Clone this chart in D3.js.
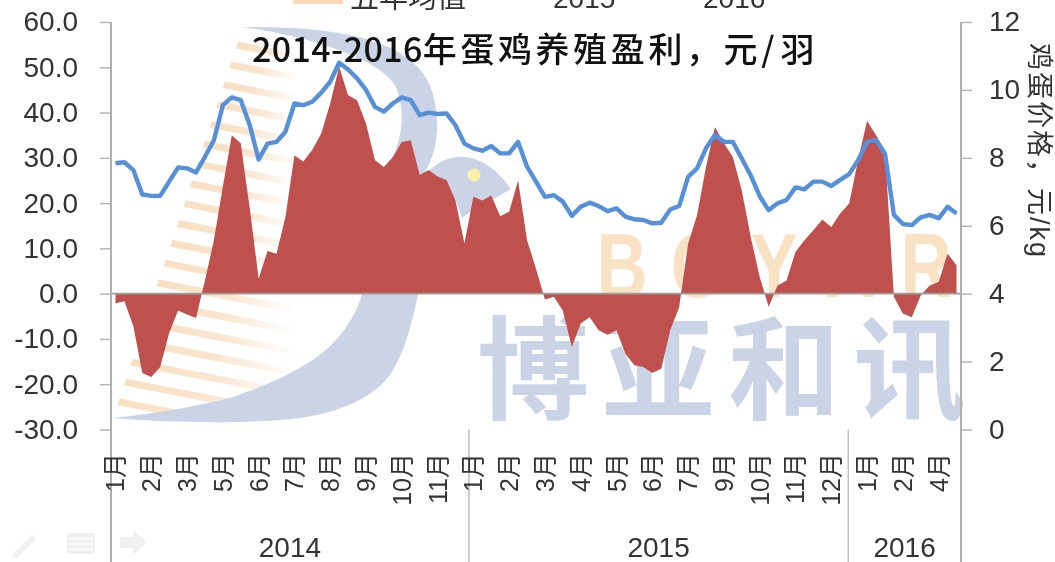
<!DOCTYPE html>
<html>
<head>
<meta charset="utf-8">
<script src="https://cdn.jsdelivr.net/npm/d3@7"></script>
<style>
  html, body { margin: 0; padding: 0; background: #fff; overflow: hidden; }
  svg { display: block; filter: blur(0.7px); }
  text { font-family: "Liberation Sans", "Noto Sans CJK SC", sans-serif; fill: #333; }
</style>
</head>
<body>
<div id="chart"></div>
<script>
const monthLabels = ['1月','2月','3月','5月','6月','7月','8月','9月','10月','11月',
  '1月','2月','3月','4月','5月','6月','7月','9月','10月','11月','12月',
  '1月','2月','4月'];
const years = ['2014', '2015', '2016'];
const yearBreaks = [0, 40, 82.4, 95];   // 每年开始的周序号
const legendNames = ['五年均值', '2015', '2016'];
const leftTicks = [60, 50, 40, 30, 20, 10, 0, -10, -20, -30];
const rightTicks = [12, 10, 8, 6, 4, 2, 0];

// 蛋鸡养殖盈利，元/羽
const profit = [-2.1,-1.7,-7.2,-17.5,-18.4,-16.2,-8.7,-3.7,-4.6,-5.4,
  2.9,11.8,23.6,35.0,33.2,19.0,3.3,9.4,8.8,17.0,
  30.5,29.2,31.8,35.4,42.0,50.1,43.8,42.7,37.6,29.5,
  28.0,30.2,33.5,33.9,26.2,27.3,25.9,25.1,20.6,11.1,
  21.4,20.6,21.7,17.1,18.1,25.0,11.8,5.5,-1.3,-0.7,
  -3.7,-11.8,-6.6,-5.2,-8.1,-9.1,-8.1,-13.3,-15.8,-16.2,
  -17.5,-16.6,-8.1,-3.0,11.0,17.3,28.0,36.8,33.2,30.2,
  22.8,12.5,3.7,-2.9,1.8,2.9,9.2,11.8,14.0,16.4,
  14.7,17.7,19.9,29.5,38.2,35.0,31.7,-0.7,-4.4,-5.2,
  -0.4,1.8,2.6,8.8,6.3];

// 鸡蛋价格，元/kg
const price = [7.84,7.87,7.64,6.92,6.88,6.88,7.30,7.72,7.69,7.57,
  8.03,8.52,9.55,9.78,9.70,8.97,7.95,8.42,8.47,8.77,
  9.60,9.55,9.65,9.92,10.24,10.80,10.60,10.34,10.00,9.50,
  9.36,9.60,9.78,9.70,9.26,9.33,9.29,9.31,8.96,8.42,
  8.28,8.21,8.35,8.13,8.13,8.47,7.74,7.30,6.85,6.90,
  6.71,6.29,6.56,6.68,6.58,6.43,6.51,6.27,6.19,6.17,
  6.07,6.09,6.48,6.58,7.44,7.69,8.28,8.67,8.47,8.47,
  7.98,7.48,6.87,6.46,6.66,6.76,7.13,7.07,7.30,7.30,
  7.17,7.35,7.52,7.93,8.47,8.52,8.13,6.32,6.05,6.02,
  6.25,6.32,6.22,6.56,6.36];

const width = 1055, height = 562;
const margin = { top: 22, right: 94, bottom: 132.5, left: 111 };
const plotW = width - margin.left - margin.right;
const plotH = height - margin.top - margin.bottom;

const svg = d3.select('#chart').append('svg')
  .attr('width', width).attr('height', height)
  .attr('viewBox', `0 0 ${width} ${height}`);

const defs = svg.append('defs');
const fade = defs.append('linearGradient').attr('id', 'stripeFade');
fade.append('stop').attr('offset', '0%').attr('stop-color', '#f9dfc2');
fade.append('stop').attr('offset', '50%').attr('stop-color', '#fae5cf');
fade.append('stop').attr('offset', '100%').attr('stop-color', '#fff');
// 条纹只留在月牙内侧
defs.append('clipPath').attr('id', 'stripeClip').append('path')
  .attr('d', 'M113,418 L243,27 L300,27 L300,375 C280,384 255,391 233,397 C190,408 150,414 113,418 Z');

// 水印
const mark = svg.append('g');
const logoBlue = '#cbd3e6', logoPeach = '#f9e1c3';

const stripes = mark.append('g').attr('clip-path', 'url(#stripeClip)');
d3.range(-1, 19).forEach(k => {
  const x0 = 117 + k * 6.7, y0 = 398 - k * 19.8;
  stripes.append('rect')
    .attr('x', x0).attr('y', y0).attr('height', 7)
    .attr('width', 298 - x0)
    .attr('transform', `rotate(11 ${x0} ${y0})`)
    .attr('fill', 'url(#stripeFade)');
});

mark.append('path')
  .attr('d', 'M113,418 C170,423 250,424 300,418 C340,412 365,400 383,383 C400,366 410,335 420,285 L425,172 C438,150 442,120 430,85 C410,40 340,26 243,27 C300,35 375,55 395,85 C408,115 400,140 390,165 L362,295 C345,345 310,370 233,397 C190,408 150,414 113,418 Z')
  .attr('fill', logoBlue);
mark.append('path')
  .attr('d', 'M428,172 C445,153 480,145 511,189 L466,215 L462,218 C455,195 445,180 428,172 Z')
  .attr('fill', logoBlue);
mark.append('circle').attr('cx', 474).attr('cy', 175).attr('r', 6.5).attr('fill', '#f8f1a6');

['B', 'O', 'Y', 'A', 'R'].forEach((c, i) => {
  mark.append('text')
    .attr('transform', `translate(${622 + i * 76},297) scale(0.78,1)`)
    .attr('text-anchor', 'middle')
    .style('font-size', '90px').style('font-weight', 'bold').style('fill', logoPeach)
    .text(c);
});
['博', '亚', '和', '讯'].forEach((c, i) => {
  mark.append('text')
    .attr('x', 533 + i * 125.5).attr('y', 411)
    .attr('text-anchor', 'middle')
    .style('font-family', '"Noto Sans CJK SC"')
    .style('font-size', '112px').style('font-weight', 700).style('fill', logoBlue)
    .text(c);
});

// 左下角工具图标
const tools = svg.append('g').attr('fill', '#f0f0f0');
tools.append('path').attr('d', 'M14,553 L32,535 L37,538 L19,556 L13,558 Z');
tools.append('rect').attr('x', 67).attr('y', 533).attr('width', 28).attr('height', 21).attr('rx', 3);
[539, 544, 549].forEach(py => {
  tools.append('line').attr('x1', 69).attr('x2', 93).attr('y1', py).attr('y2', py).attr('stroke', '#fff');
});
tools.append('path').attr('d', 'M120,537 L133,537 L133,530 L147,542 L133,555 L133,548 L120,548 Z');

const x = d3.scaleBand()
  .domain(d3.range(profit.length))
  .range([margin.left, margin.left + plotW]);
const yearX = d3.scaleLinear()
  .domain([0, profit.length])
  .range([margin.left, margin.left + plotW]);
const yLeft = d3.scaleLinear().domain([-30, 60]).range([margin.top + plotH, margin.top]);
const yRight = d3.scaleLinear().domain([0, 12]).range([margin.top + plotH, margin.top]);
const center = i => x(i) + x.bandwidth() / 2;

// 盈利面积
svg.append('path')
  .datum(profit)
  .attr('fill', '#c0504d')
  .attr('d', d3.area().x((d, i) => center(i)).y0(yLeft(0)).y1(d => yLeft(d)));

// 零线
svg.append('line')
  .attr('x1', margin.left).attr('x2', margin.left + plotW)
  .attr('y1', yLeft(0)).attr('y2', yLeft(0))
  .attr('stroke', '#9c9c9c').attr('stroke-width', 1.6);

// 价格折线
svg.append('path')
  .datum(price)
  .attr('fill', 'none')
  .attr('stroke', '#5590d8')
  .attr('stroke-width', 4.4)
  .attr('stroke-linejoin', 'round')
  .attr('d', d3.line().x((d, i) => center(i)).y(d => yRight(d)));

// 坐标轴
const axisLeft = svg.append('g')
  .attr('transform', `translate(${margin.left},0)`)
  .call(d3.axisLeft(yLeft).tickValues(leftTicks).tickSize(11).tickPadding(22).tickFormat(d => d.toFixed(1)));
const axisRight = svg.append('g')
  .attr('transform', `translate(${margin.left + plotW},0)`)
  .call(d3.axisRight(yRight).tickValues(rightTicks).tickSize(11).tickPadding(17));
[axisLeft, axisRight].forEach(g => {
  g.select('.domain').remove();
  g.selectAll('line').attr('stroke', '#b5b5b5').attr('stroke-width', 1.5);
  g.selectAll('text').style('font-size', '28px').style('fill', '#333');
});

// 纵向分隔线（两侧到底，年份之间从绘图区底部开始）
[margin.left, margin.left + plotW].forEach(px => {
  svg.append('line').attr('x1', px).attr('x2', px)
    .attr('y1', margin.top).attr('y2', height)
    .attr('stroke', '#b0b0b0').attr('stroke-width', 2);
});
yearBreaks.slice(1, 3).forEach(b => {
  svg.append('line').attr('x1', yearX(b)).attr('x2', yearX(b))
    .attr('y1', margin.top + plotH).attr('y2', height)
    .attr('stroke', '#bdbdbd').attr('stroke-width', 1.5);
});

// 月份标签，每四周一个
monthLabels.forEach((m, i) => {
  svg.append('text')
    .attr('transform', `translate(${center(i * 4) + 9},453) rotate(-90)`)
    .attr('text-anchor', 'end')
    .style('font-size', '25px')
    .text(m);
});

// 年份标签
years.forEach((yr, i) => {
  svg.append('text')
    .attr('x', (yearX(yearBreaks[i]) + yearX(yearBreaks[i + 1])) / 2)
    .attr('y', 557)
    .attr('text-anchor', 'middle')
    .style('font-size', '28px')
    .text(yr);
});

// 标题，数字紧凑、汉字留空
const title = svg.append('text')
  .attr('x', 252).attr('y', 62)
  .style('font-family', '"Noto Sans CJK SC"')
  .style('font-size', '34px').style('font-weight', 500)
  .style('fill', '#111');
title.append('tspan').style('letter-spacing', '0.4px').text('2014-2016');
title.append('tspan').style('letter-spacing', '3.6px').text('年蛋鸡养殖盈利，元');
title.append('tspan').style('letter-spacing', '6px').text('/');
title.append('tspan').text('羽');

// 右侧标题
svg.append('text')
  .attr('transform', 'translate(1030,43) rotate(90)')
  .style('font-size', '27px').style('letter-spacing', '2px')
  .text('鸡蛋价格，元/kg');

// 图例，上边被裁掉
svg.append('rect').attr('x', 293).attr('y', -10).attr('width', 50).attr('height', 14).attr('fill', '#fdd9b8');
svg.append('text').attr('x', 350).attr('y', 8).style('font-size', '29px').text(legendNames[0]);
svg.append('text').attr('x', 553).attr('y', 8).style('font-size', '28px').text(legendNames[1]);
svg.append('text').attr('x', 703).attr('y', 8).style('font-size', '28px').text(legendNames[2]);
</script>
</body>
</html>
